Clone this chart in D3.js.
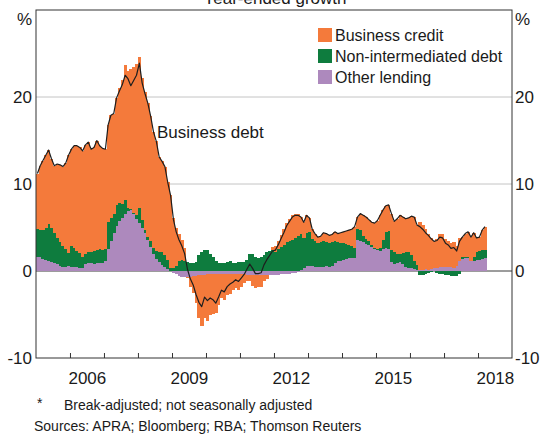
<!DOCTYPE html>
<html><head><meta charset="utf-8">
<script src="https://cdn.jsdelivr.net/npm/d3@7"></script>
<style>
body{margin:0;background:#fff}
svg{display:block}
text{font-family:"Liberation Sans",Arial,sans-serif;fill:#1a1a1a}
</style>
</head><body>
<svg id="chart" width="541" height="434"></svg>
<script>
// Monthly observations, Jan 2005 – Mar 2018 (year-ended growth contributions, ppt)
const firstMonth = new Date(2005, 0, 1);
const lastMonthExclusive = new Date(2018, 3, 1);

const otherLending = [
1.6,1.6,1.4,1.3,1.2,1.0,0.9,0.8,0.6,0.5,0.5,0.6,
0.5,0.5,0.5,0.4,0.3,0.8,0.9,0.9,0.8,0.9,0.9,0.9,
1.1,2.5,3.4,4.4,5.2,5.8,6.1,6.5,6.9,7.0,6.6,6.0,
5.5,4.9,4.4,3.6,2.8,1.9,1.4,1.0,0.7,0.5,0.2,0.0,
-0.2,-0.4,-0.6,-0.7,-0.7,-0.7,-0.7,-0.6,-0.6,-0.5,-0.5,-0.5,
-0.4,-0.4,-0.4,-0.4,-0.3,-0.3,-0.3,-0.3,-0.3,-0.3,-0.3,-0.3,
-0.4,-0.4,-0.5,-0.5,-0.5,-0.5,-0.5,-0.5,-0.5,-0.5,-0.5,-0.5,
-0.5,-0.5,-0.4,-0.4,-0.3,-0.3,-0.2,-0.2,-0.1,0.1,0.3,0.6,
0.6,0.6,0.5,0.5,0.5,0.5,0.6,0.5,0.6,0.9,1.1,1.1,
1.3,1.4,1.5,1.5,1.5,3.6,3.5,3.3,3.1,3.0,2.8,2.5,
2.4,2.3,2.5,2.6,2.5,1.0,0.8,0.9,1.0,0.8,0.5,0.4,
0.3,0.2,0.1,0.1,0.1,0.2,0.1,0.2,0.3,0.4,0.5,0.5,
0.5,0.5,0.5,0.4,0.6,1.1,1.4,1.5,1.5,1.1,1.2,1.3,
1.3,1.4,1.5];

const nonIntermediated = [
3.2,3.1,3.3,3.6,4.2,4.0,3.5,3.0,2.7,2.4,2.0,1.5,
2.4,2.2,1.8,1.7,1.3,1.2,1.3,1.3,1.5,1.5,1.6,1.5,
1.4,3.1,2.7,2.2,2.4,2.0,1.6,1.7,0.3,0.1,0.1,0.4,
1.7,1.0,0.3,0.3,0.6,0.7,0.9,1.2,1.5,1.3,1.1,0.3,
0.3,0.6,1.1,1.3,1.2,1.0,0.9,0.9,1.0,1.8,2.2,2.4,
2.4,2.0,1.6,1.1,0.9,0.9,0.9,1.0,1.1,0.9,0.9,1.0,
1.0,1.0,1.3,1.9,2.0,1.6,1.5,1.6,1.8,2.2,2.3,2.4,
2.2,2.5,2.8,3.0,3.3,3.5,3.6,3.8,4.0,4.1,3.5,3.8,
3.9,3.1,2.9,2.7,2.8,2.9,2.7,2.7,2.7,2.5,2.2,2.1,
1.9,1.7,1.5,1.4,1.1,1.2,1.2,0.7,0.6,0.4,0.2,0.1,
0.1,0.3,1.1,1.9,2.1,1.4,1.4,1.1,1.0,1.3,1.7,1.8,
1.5,1.0,0.6,-0.5,-0.5,-0.4,-0.2,-0.1,0.0,-0.2,-0.3,-0.4,
-0.5,-0.5,-0.6,-0.6,-0.6,-0.4,0.2,0.1,0.1,0.1,0.4,0.9,
1.0,1.0,0.9];

const businessCredit = [
6.4,7.4,8.0,8.4,8.5,7.9,7.7,8.5,8.9,9.1,9.9,11.2,
11.1,11.7,12.1,12.1,12.2,12.5,12.6,11.8,11.9,12.6,11.9,11.7,
11.5,11.2,11.8,11.5,12.3,13.2,14.3,15.5,15.8,16.1,16.8,17.4,
17.4,16.3,15.9,15.4,14.4,13.4,12.6,10.9,10.4,10.2,8.9,8.4,
5.8,4.3,3.1,2.3,1.5,-0.1,-1.1,-1.9,-3.1,-4.9,-5.8,-4.9,
-5.4,-4.7,-4.5,-4.4,-3.6,-2.8,-3.0,-2.5,-2.3,-1.9,-1.6,-1.9,
-1.4,-1.0,-0.6,-0.6,-1.2,-1.4,-1.3,-1.3,-0.6,-0.4,0.0,0.4,
0.7,1.0,1.3,1.8,2.2,2.5,2.8,2.8,2.5,2.0,1.8,2.0,
1.6,1.1,0.9,0.7,0.7,1.0,1.0,0.9,0.9,1.1,1.0,1.2,
1.3,1.5,1.7,1.9,2.5,1.4,1.9,2.4,2.5,2.5,2.6,2.9,
3.3,3.8,3.4,3.0,3.0,4.2,3.5,4.0,4.4,4.1,3.8,3.9,
4.5,5.0,4.6,5.5,5.2,4.6,4.2,3.6,3.1,3.3,3.7,3.7,
3.2,3.0,2.7,2.9,2.3,2.7,2.3,2.7,2.9,2.7,2.8,1.6,
1.6,2.3,2.7];

const businessDebt = [
11.2,12.1,12.7,13.3,13.9,12.9,12.1,12.3,12.2,12.0,12.4,13.3,
14.0,14.4,14.4,14.2,13.8,14.5,14.8,14.0,14.2,15.0,14.4,14.1,
14.0,16.8,17.9,18.1,19.9,20.7,21.4,22.5,22.1,21.3,21.9,22.5,
23.9,21.6,20.4,19.3,17.8,16.0,14.9,13.1,12.6,12.0,10.2,8.7,
5.9,4.5,3.6,2.9,2.0,0.2,-0.9,-1.6,-2.7,-3.6,-4.1,-3.0,
-3.4,-3.1,-3.3,-3.7,-3.0,-2.2,-2.4,-1.8,-1.5,-1.3,-1.0,-1.2,
-0.8,-0.4,0.2,0.8,0.3,-0.3,-0.3,-0.2,0.7,1.3,1.8,2.3,
2.4,3.0,3.7,4.4,5.2,5.7,6.2,6.4,6.4,6.2,5.6,6.4,
6.1,4.8,4.3,3.9,4.0,4.4,4.3,4.1,4.2,4.5,4.3,4.4,
4.5,4.6,4.7,4.8,5.1,6.2,6.6,6.4,6.2,5.9,5.6,5.5,
5.8,6.4,7.0,7.5,7.6,6.6,5.7,6.0,6.4,6.2,6.0,6.1,
6.3,6.2,5.3,5.1,4.8,4.4,4.1,3.7,3.4,3.5,3.9,3.8,
3.2,3.0,2.6,2.7,2.3,3.4,3.9,4.3,4.5,3.9,4.4,3.8,
3.9,4.7,5.1];

const seriesKeys = ["otherLending", "nonIntermediated", "businessCredit"];
const legendLabels = ["Business credit", "Non-intermediated debt", "Other lending"];
const legendKeys = ["businessCredit", "nonIntermediated", "otherLending"];
const yTickValues = [-10, 0, 10, 20];
const xLabelYears = [2006, 2009, 2012, 2015, 2018];

const colors = {businessCredit: "#f47a3b", nonIntermediated: "#0e7c3e", otherLending: "#ad89bd"};

const months = d3.timeMonths(firstMonth, lastMonthExclusive);
const table = months.map((d, i) => ({
  date: d,
  otherLending: otherLending[i],
  nonIntermediated: nonIntermediated[i],
  businessCredit: businessCredit[i],
  businessDebt: businessDebt[i]
}));

const svg = d3.select("#chart");
const L = 36, R = 512, T = 10, B = 358;

const x = d3.scaleTime().domain([new Date(2005,0,1), new Date(2019,0,1)]).range([L, R]);
const y = d3.scaleLinear().domain([-10, 30]).range([B, T]);

// gridlines
svg.append("g").selectAll("line").data([10, 20]).join("line")
  .attr("x1", L).attr("x2", R)
  .attr("y1", d => y(d)).attr("y2", d => y(d))
  .attr("stroke", "#c4c4c4").attr("stroke-width", 1);

// zero line (under bars)
svg.append("line").attr("x1", L).attr("x2", R).attr("y1", y(0)).attr("y2", y(0))
  .attr("stroke", "#3a3a3a").attr("stroke-width", 1);

// stacked bars
const stack = d3.stack().keys(seriesKeys).offset(d3.stackOffsetDiverging);
const stacked = stack(table);
svg.append("g").selectAll("g").data(stacked).join("g")
  .attr("fill", s => colors[s.key])
  .selectAll("rect").data(s => s).join("rect")
  .attr("x", d => x(d.data.date))
  .attr("width", d => x(d3.timeMonth.offset(d.data.date, 1)) - x(d.data.date) + 0.4)
  .attr("y", d => y(Math.max(d[0], d[1])))
  .attr("height", d => Math.abs(y(d[0]) - y(d[1])))
  .attr("shape-rendering", "crispEdges");

// business debt line
const line = d3.line()
  .x(d => (x(d.date) + x(d3.timeMonth.offset(d.date, 1))) / 2)
  .y(d => y(d.businessDebt));
svg.append("path").datum(table).attr("d", line)
  .attr("fill", "none").attr("stroke", "#1e1e1e").attr("stroke-width", 1.2)
  .attr("stroke-linejoin", "round");

// frame
svg.append("rect").attr("x", L).attr("y", T).attr("width", R - L).attr("height", B - T)
  .attr("fill", "none").attr("stroke", "#333").attr("stroke-width", 1);

// x ticks (inside, upward)
const xTicks = svg.append("g").attr("transform", `translate(0,${B})`)
  .call(d3.axisBottom(x).tickValues(d3.timeYears(new Date(2006,0,1), new Date(2019,0,1)))
    .tickSizeInner(-5).tickSizeOuter(0).tickFormat(""));
xTicks.select(".domain").remove();
xTicks.selectAll("line").attr("stroke", "#333");

// x labels centred on each labelled year
const xLab = svg.append("g").attr("transform", `translate(0,${B})`)
  .call(d3.axisBottom(x).tickValues(xLabelYears.map(yr => new Date(yr, 6, 1)))
    .tickSize(0).tickPadding(14).tickFormat(d3.timeFormat("%Y")));
xLab.select(".domain").remove();
xLab.selectAll("text").attr("font-size", 17).attr("font-family", "Liberation Sans, Arial, sans-serif").attr("fill", "#1a1a1a");

// y axes (hyphen-minus labels as in the original)
const fmt = d => String(d);
const yl = svg.append("g").attr("transform", `translate(${L},0)`)
  .call(d3.axisLeft(y).tickValues(yTickValues).tickSize(0).tickPadding(4).tickFormat(fmt));
const yr = svg.append("g").attr("transform", `translate(${R},0)`)
  .call(d3.axisRight(y).tickValues(yTickValues).tickSize(0).tickPadding(3).tickFormat(fmt));
[yl, yr].forEach(g => {
  g.select(".domain").remove();
  g.selectAll("text").attr("font-size", 17).attr("font-family", "Liberation Sans, Arial, sans-serif").attr("fill", "#1a1a1a");
});

// % units
svg.append("text").attr("x", L - 4).attr("y", 25).attr("text-anchor", "end").attr("font-size", 17).text("%");
svg.append("text").attr("x", R + 3).attr("y", 25).attr("text-anchor", "start").attr("font-size", 17).text("%");

// title (partly above the visible area, as in the original)
svg.append("text").attr("x", 275).attr("y", 4).attr("text-anchor", "middle").attr("font-size", 17).text("Year-ended growth");

// legend
const lg = svg.append("g").selectAll("g").data(legendKeys).join("g")
  .attr("transform", (d, i) => `translate(318,${28 + i * 21})`);
lg.append("rect").attr("width", 14).attr("height", 14).attr("fill", d => colors[d]);
lg.append("text").attr("x", 17).attr("y", 13).attr("font-size", 16).text((d, i) => legendLabels[i]);

// series label
svg.append("text").attr("x", 157).attr("y", 138).attr("font-size", 17).text("Business debt");

// notes
svg.append("text").attr("x", 37).attr("y", 408).attr("font-size", 14).text("*");
svg.append("text").attr("x", 64).attr("y", 410).attr("font-size", 14).text("Break-adjusted; not seasonally adjusted");
svg.append("text").attr("x", 34).attr("y", 431).attr("font-size", 14).text("Sources: APRA; Bloomberg; RBA; Thomson Reuters");
</script>
</body></html>
